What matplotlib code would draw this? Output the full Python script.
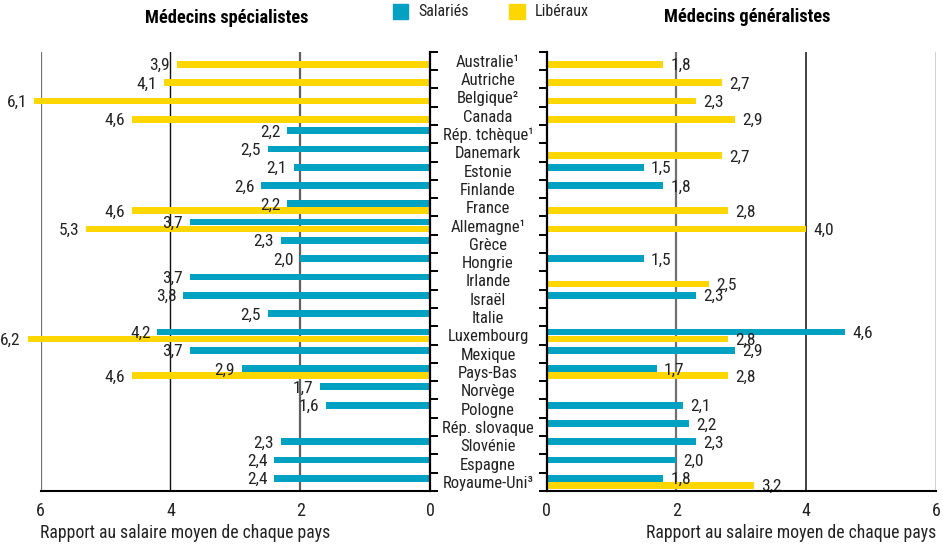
import matplotlib
matplotlib.use("Agg")
import matplotlib.pyplot as plt
import matplotlib.transforms as mtransforms
from matplotlib.patches import Rectangle
import numpy as np

plt.rcParams['font.family'] = ['Liberation Sans Narrow', 'Roboto Condensed', 'DejaVu Sans']

countries = ["Australie¹", "Autriche", "Belgique²", "Canada", "Rép. tchèque¹", "Danemark",
             "Estonie", "Finlande", "France", "Allemagne¹", "Grèce", "Hongrie", "Irlande",
             "Israël", "Italie", "Luxembourg", "Mexique", "Pays-Bas", "Norvège", "Pologne",
             "Rép. slovaque", "Slovénie", "Espagne", "Royaume-Uni³"]

# Médecins spécialistes
spec_salaries = [None, None, None, None, 2.2, 2.5, 2.1, 2.6, 2.2, 3.7, 2.3, 2.0, 3.7,
                 3.8, 2.5, 4.2, 3.7, 2.9, 1.7, 1.6, None, 2.3, 2.4, 2.4]
spec_liberaux = [3.9, 4.1, 6.1, 4.6, None, None, None, None, 4.6, 5.3, None, None, None,
                 None, None, 6.2, None, 4.6, None, None, None, None, None, None]
# Médecins généralistes
gen_salaries = [None, None, None, None, None, None, 1.5, 1.8, None, None, None, 1.5, None,
                2.3, None, 4.6, 2.9, 1.7, None, 2.1, 2.2, 2.3, 2.0, 1.8]
gen_liberaux = [1.8, 2.7, 2.3, 2.9, None, 2.7, None, None, 2.8, 4.0, None, None, 2.5,
                None, None, 2.8, None, 2.8, None, None, None, None, None, 3.2]

x_ticks = [0, 2, 4, 6]
TEAL = '#00A1C1'
YELLOW = '#FFD700'
FS = 11.5
VFS = 12.5

fig = plt.figure(figsize=(9.43, 5.47), dpi=100)
W, H = 943, 547

def fx(px):
    return px / W

def fy(py):
    return 1 - py / H

top_px, bot_px = 51.7, 491
axL = fig.add_axes([fx(40.7), fy(bot_px), fx(430 - 40.7), (bot_px - top_px) / H])
axR = fig.add_axes([fx(546.7), fy(bot_px), fx(936 - 546.7), (bot_px - top_px) / H])

n = len(countries)
y = np.arange(n)
bh = 0.37
off = 0.19

def fmt(v):
    return f"{v:.1f}".replace('.', ',')

def draw(ax, sal, lib, side):
    for i in range(n):
        if sal[i] is not None:
            ax.barh(y[i] - off, sal[i], height=bh, color=TEAL, zorder=3, clip_on=False)
            ax.annotate(fmt(sal[i]), (sal[i], y[i] - off), xytext=(5 * side, -1),
                        textcoords='offset points', ha='left' if side > 0 else 'right',
                        va='center', fontsize=VFS, color='#222222', zorder=4,
                        annotation_clip=False)
        if lib[i] is not None:
            ax.barh(y[i] + off, lib[i], height=bh, color=YELLOW, zorder=3, clip_on=False)
            ax.annotate(fmt(lib[i]), (lib[i], y[i] + off), xytext=(5 * side, -1),
                        textcoords='offset points', ha='left' if side > 0 else 'right',
                        va='center', fontsize=VFS, color='#222222', zorder=4,
                        annotation_clip=False)
    ax.set_ylim(n - 0.5, -0.5)
    ax.set_xticks(x_ticks)
    ax.set_xticklabels([str(t) for t in x_ticks], fontsize=VFS + 0.5, color='#222222')
    ax.tick_params(axis='x', length=0, pad=8)
    ax.set_yticks(np.arange(-0.5, n, 1.0))
    ax.set_yticklabels([])
    ax.tick_params(axis='y', length=5.5, width=1.4, color='black')
    for s in ['top', 'left', 'right', 'bottom']:
        ax.spines[s].set_visible(False)
    ax.spines['bottom'].set_visible(True)
    ax.spines['bottom'].set_linewidth(1.5)
    ax.spines['bottom'].set_zorder(5)

# left panel
axL.set_xlim(6, 0)
draw(axL, spec_salaries, spec_liberaux, -1)
axL.yaxis.tick_right()
axL.spines['right'].set_visible(True)
axL.spines['right'].set_linewidth(1.6)
axL.spines['right'].set_zorder(5)
axL.axvline(6, color='#707070', lw=1.6, zorder=1)
axL.axvline(4, color='#111111', lw=1.0, zorder=1)
axL.axvline(2, color='#606060', lw=1.6, zorder=1)

# right panel
axR.set_xlim(0, 6)
draw(axR, gen_salaries, gen_liberaux, 1)
axR.yaxis.tick_left()
axR.spines['left'].set_visible(True)
axR.spines['left'].set_linewidth(1.6)
axR.spines['left'].set_zorder(5)
axR.axvline(2, color='#707070', lw=1.6, zorder=1)
axR.axvline(4, color='#222222', lw=1.2, zorder=1)
axR.axvline(6, color='#111111', lw=1.0, zorder=1)

# country labels
tr = mtransforms.blended_transform_factory(fig.transFigure, axL.transData)
for i, c in enumerate(countries):
    fig.text(fx(488), y[i] + 0.08, c, transform=tr, ha='center', va='center',
             fontsize=FS + 0.5, color='#222222')

# titles
fig.text(fx(227), fy(18), "Médecins spécialistes", ha='center', va='center',
         fontsize=13.2, fontweight='bold', color='black')
fig.text(fx(746.7), fy(17), "Médecins généralistes", ha='center', va='center',
         fontsize=13.2, fontweight='bold', color='black')

# legend
fig.patches.append(Rectangle((fx(393), fy(19)), fx(15), 15 / H, transform=fig.transFigure,
                             color=TEAL, figure=fig))
fig.text(fx(418), fy(12), "Salariés", ha='left', va='center', fontsize=FS, color='#222222')
fig.patches.append(Rectangle((fx(509), fy(19)), fx(16), 15 / H, transform=fig.transFigure,
                             color=YELLOW, figure=fig))
fig.text(fx(535), fy(12), "Libéraux", ha='left', va='center', fontsize=FS, color='#222222')

# axis labels
fig.text(fx(40), fy(533), "Rapport au salaire moyen de chaque pays", ha='left', va='center',
         fontsize=12.7, color='#222222')
fig.text(fx(936), fy(533), "Rapport au salaire moyen de chaque pays", ha='right', va='center',
         fontsize=12.7, color='#222222')

fig.savefig("out.png", dpi=100)
